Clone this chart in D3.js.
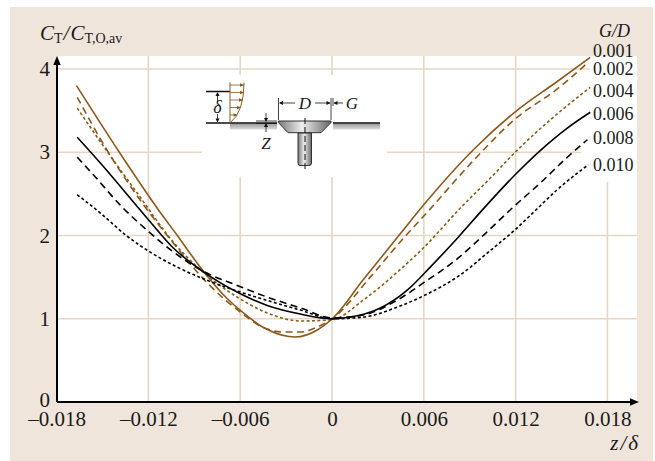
<!DOCTYPE html>
<html lang="en">

<head>
  <meta charset="UTF-8" />
  <title>Heat transfer coefficient vs z/delta</title>
  <script src="https://d3js.org/d3.v7.min.js"></script>
  <style>
    html,
    body {
      margin: 0;
      padding: 0;
      background-color: #fff;
    }

    svg {
      display: block;
      font-family: "Liberation Serif", serif;
      fill: #1a1a1a;
    }

    .grid line {
      stroke: #e7d6c3;
      stroke-width: 1.6px;
    }

    .curve {
      fill: none;
      stroke-width: 1.6px;
    }
  </style>
</head>

<body>
  <svg id="chart" width="655" height="461"></svg>

  <script>
    // values, z in z/delta units
    const xTicks = [-0.018, -0.012, -0.006, 0, 0.006, 0.012, 0.018];
    const xTickLabels = ["–0.018", "–0.012", "–0.006", "0", "0.006", "0.012", "0.018"];
    const yTicks = [0, 1, 2, 3, 4];

    const seriesNames = ["0.001", "0.002", "0.004", "0.006", "0.008", "0.010"];

    const z001 = [-0.0167, -0.0139, -0.01135, -0.01011, -0.00861, -0.00684, -0.00599, -0.00423, -0.0024, -0.00096, 0.00002, 0.00205, 0.00446, 0.00623, 0.00924, 0.01204, 0.01472, 0.01688];
    const c001 = [3.80, 3.00, 2.31, 2.00, 1.62, 1.24, 1.10, 0.87, 0.78, 0.865, 1.0, 1.47, 2.02, 2.42, 3.03, 3.495, 3.85, 4.14];

    const z002 = [-0.01665, -0.01462, -0.0122, -0.01077, -0.00815, -0.006, -0.00469, -0.00318, -0.00207, -0.00096, 0.00002, 0.0025, 0.00459, 0.00623, 0.00924, 0.01204, 0.01472, 0.01675];
    const c002 = [3.66, 3.00, 2.34, 2.00, 1.43, 1.08, 0.913, 0.84, 0.84, 0.90, 1.0, 1.50, 1.95, 2.28, 2.90, 3.41, 3.76, 4.08];

    const z004 = [-0.01665, -0.01462, -0.01273, -0.01037, -0.0088, -0.00619, -0.00423, -0.00207, 0.00002, 0.00205, 0.00427, 0.00597, 0.00839, 0.01035, 0.01197, 0.01446, 0.01688];
    const c004 = [3.53, 2.99, 2.51, 1.92, 1.62, 1.26, 1.07, 0.973, 0.99, 1.225, 1.56, 1.85, 2.33, 2.69, 3.0, 3.42, 3.78];

    const z006 = [-0.01665, -0.01514, -0.012, -0.01037, -0.00861, -0.00599, -0.00423, -0.00207, 0.00002, 0.00119, 0.00316, 0.00492, 0.00642, 0.00825, 0.00989, 0.01197, 0.01361, 0.01538, 0.01688];
    const c006 = [3.18, 2.87, 2.19, 1.85, 1.59, 1.30, 1.16, 1.057, 1.0, 1.02, 1.13, 1.345, 1.62, 1.98, 2.32, 2.73, 3.02, 3.29, 3.48];

    const z008 = [-0.01665, -0.0156, -0.01371, -0.01207, -0.01057, -0.00841, -0.00619, -0.00423, -0.00207, 0.00002, 0.00205, 0.00427, 0.00597, 0.00825, 0.01, 0.01178, 0.01361, 0.01538, 0.01669];
    const c008 = [2.94, 2.73, 2.34, 2.06, 1.83, 1.57, 1.40, 1.26, 1.13, 1.01, 1.045, 1.225, 1.43, 1.73, 2.02, 2.33, 2.63, 2.94, 3.15];

    const z010 = [-0.01665, -0.01514, -0.01338, -0.01188, -0.01011, -0.00841, -0.00599, -0.00423, -0.00207, 0.00002, 0.00205, 0.00427, 0.00609, 0.00825, 0.01035, 0.01197, 0.01329, 0.01472, 0.01675];
    const c010 = [2.49, 2.27, 1.99, 1.80, 1.62, 1.48, 1.32, 1.22, 1.105, 1.0, 1.02, 1.14, 1.285, 1.51, 1.82, 2.07, 2.30, 2.55, 2.85];

    const zValues = [z001, z002, z004, z006, z008, z010];
    const cValues = [c001, c002, c004, c006, c008, c010];

    const brown = "#8a5a1c";
    const beige = "#efe5da";
    const seriesColors = [brown, brown, brown, "#000", "#000", "#000"];
    const seriesDashes = [null, "7,4.5", "3,2.4", null, "7,4.5", "3,2.4"];
    const labelBaselines = [57, 75, 97, 120, 144, 171];

    const svg = d3.select("#chart");

    const xScale = d3.scaleLinear().domain([-0.018, 0.018]).range([56.6, 607.4]);
    const yScale = d3.scaleLinear().domain([0, 4]).range([402, 69]);

    // panel
    svg.append("rect").attr("x", 10).attr("y", 7).attr("width", 643).attr("height", 454).attr("fill", beige);
    svg.append("rect").attr("x", 57).attr("y", 56).attr("width", 580).attr("height", 346).attr("fill", "#fff");

    // grid, some lines stop short of the labels
    const grid = svg.append("g").attr("class", "grid");
    grid.selectAll("line.v")
      .data(xTicks.slice(1))
      .join("line")
      .attr("class", "v")
      .attr("x1", d => xScale(d))
      .attr("x2", d => xScale(d))
      .attr("y1", d => d === 0.018 ? 182 : 56)
      .attr("y2", yScale(0));

    const gridEnds = { 1: 637, 2: 637, 3: 581, 4: 590 };
    grid.selectAll("line.h")
      .data(yTicks.slice(1))
      .join("line")
      .attr("class", "h")
      .attr("x1", 57)
      .attr("x2", d => gridEnds[d])
      .attr("y1", d => yScale(d))
      .attr("y2", d => yScale(d));

    // white patch behind the sketch
    svg.append("rect").attr("x", 202).attr("y", 75).attr("width", 185).attr("height", 102).attr("fill", "#fff");

    // curves
    const line = d3.line()
      .x(d => xScale(d[0]))
      .y(d => yScale(d[1]))
      .curve(d3.curveMonotoneX);

    svg.append("g")
      .selectAll("path")
      .data(seriesNames)
      .join("path")
      .attr("class", "curve")
      .attr("d", (d, i) => line(d3.zip(zValues[i], cValues[i])))
      .attr("stroke", (d, i) => seriesColors[i])
      .attr("stroke-dasharray", (d, i) => seriesDashes[i]);

    // axes
    const bottomAxis = d3.axisBottom(xScale)
      .tickValues(xTicks)
      .tickSize(0)
      .tickPadding(9)
      .tickFormat((d, i) => xTickLabels[i]);
    const xAxis = svg.append("g").attr("transform", `translate(0,${yScale(0)})`).call(bottomAxis);
    xAxis.select(".domain").remove();
    xAxis.selectAll("text").attr("font-size", 21).attr("font-family", "Liberation Serif").attr("fill", "#1a1a1a");

    const leftAxis = d3.axisLeft(yScale).tickValues(yTicks).tickFormat(d3.format("d")).tickSize(0).tickPadding(7);
    const yAxis = svg.append("g").attr("transform", "translate(57,0)").call(leftAxis);
    yAxis.select(".domain").remove();
    yAxis.selectAll("text").attr("font-size", 21).attr("font-family", "Liberation Serif").attr("fill", "#1a1a1a");
    yAxis.selectAll("text").filter(d => d === 0).attr("dy", "0.2em");

    svg.append("line").attr("x1", 57).attr("x2", 633).attr("y1", 402).attr("y2", 402).attr("stroke", "#000").attr("stroke-width", 2);
    svg.append("line").attr("x1", 57).attr("x2", 57).attr("y1", 402).attr("y2", 62).attr("stroke", "#000").attr("stroke-width", 2);
    svg.append("path").attr("d", "M639,402 L630,398.3 L630,405.7 Z").attr("fill", "#000");
    svg.append("path").attr("d", "M57,56 L53.3,65 L60.7,65 Z").attr("fill", "#000");

    // axis titles
    const yTitle = svg.append("text").attr("x", 40).attr("y", 40).attr("font-size", 21);
    yTitle.append("tspan").attr("font-style", "italic").text("C");
    yTitle.append("tspan").attr("font-size", 14).attr("dy", 3).text("T");
    yTitle.append("tspan").attr("font-style", "italic").attr("dy", -3).attr("dx", 1).text("/");
    yTitle.append("tspan").attr("font-style", "italic").attr("dx", 1).text("C");
    yTitle.append("tspan").attr("font-size", 14).attr("dy", 3).text("T,O,av");

    const xTitle = svg.append("text").attr("x", 638).attr("y", 450).attr("text-anchor", "end").attr("font-size", 21).attr("font-style", "italic");
    xTitle.append("tspan").text("z");
    xTitle.append("tspan").attr("dx", 2).text("/");
    xTitle.append("tspan").attr("dx", 2).text("δ");

    // curve labels
    svg.append("text").attr("x", 599).attr("y", 37).attr("font-size", 18).attr("font-style", "italic").text("G/D");
    svg.append("g")
      .selectAll("text")
      .data(seriesNames)
      .join("text")
      .attr("x", 593)
      .attr("y", (d, i) => labelBaselines[i])
      .attr("font-size", 18)
      .text(d => d);

    // sketch of the gap and the plug
    const defs = svg.append("defs");
    const metal = defs.append("linearGradient").attr("id", "metal");
    metal.append("stop").attr("offset", "0%").attr("stop-color", "#777");
    metal.append("stop").attr("offset", "45%").attr("stop-color", "#eee");
    metal.append("stop").attr("offset", "100%").attr("stop-color", "#666");
    const wall = defs.append("linearGradient").attr("id", "wall").attr("x2", 0).attr("y2", 1);
    wall.append("stop").attr("offset", "0%").attr("stop-color", "#999");
    wall.append("stop").attr("offset", "100%").attr("stop-color", "#ddd");

    const sketch = svg.append("g").attr("stroke", "#111").attr("stroke-width", 1).attr("fill", "none");
    sketch.append("rect").attr("x", 230).attr("y", 123.5).attr("width", 47).attr("height", 6).attr("fill", "url(#wall)").attr("stroke", "none");
    sketch.append("rect").attr("x", 333).attr("y", 123.5).attr("width", 47).attr("height", 6).attr("fill", "url(#wall)").attr("stroke", "none");
    sketch.append("path").attr("d", "M206,123 H277 M333,123 H380 M206,91.5 H230").attr("stroke-width", 1.3);
    sketch.append("path").attr("d", "M278.3,121 H331 V122.5 L321,132.7 H288 L278.3,122.5 Z").attr("fill", "url(#metal)").attr("stroke", "#333");
    sketch.append("path").attr("d", "M298,133 H311.5 V163 Q311.5,165.5 309,165.5 H300 Q298,165.5 298,163 Z").attr("fill", "url(#metal)").attr("stroke", "#333");
    sketch.append("path").attr("d", "M305,118 V172").attr("stroke-dasharray", "6,3");
    sketch.append("path").attr("d", "M278.5,98 V120 M331,98 V120 M333,98 V106 M256,121 H277 M256,123.5 H277 M266,113 V121 M266,132 V124 M217.5,93 V102 M217.5,114 V122")
      .attr("stroke-width", 0.8);
    sketch.append("path").attr("d", "M280,103 H295 M315,103 H330 M334,103 H343").attr("stroke-width", 0.8);
    // arrow heads of the dimensions
    sketch.append("path")
      .attr("d", "M279,103 l4,-2 v4 Z M330.5,103 l-4,-2 v4 Z M333.5,103 l4,-2 v4 Z M217.5,92 l-2,4 h4 Z M217.5,122.5 l-2,-4 h4 Z M266,122 l-2,-4 h4 Z M266,123 l-2,4 h4 Z")
      .attr("fill", "#111").attr("stroke", "none");

    // boundary layer profile
    const profile = svg.append("g").attr("stroke", brown).attr("stroke-width", 1).attr("fill", "none");
    profile.append("path").attr("d", "M230,82.5 V123 Q244,112 244,82.5");
    profile.append("path").attr("d", "M230,85 H243.5 M230,92.5 H243.5 M230,100 H242.5 M230,107.5 H241 M230,115 H237").attr("stroke-width", 0.8);
    profile.append("path")
      .attr("d", "M244,85 l-4,-1.8 v3.6 Z M244,92.5 l-4,-1.8 v3.6 Z M243,100 l-4,-1.8 v3.6 Z M241,107.5 l-4,-1.8 v3.6 Z M237.5,115 l-4,-1.8 v3.6 Z")
      .attr("fill", brown).attr("stroke", "none");

    const sketchLabels = svg.append("g").attr("font-size", 17).attr("font-style", "italic").attr("text-anchor", "middle");
    sketchLabels.append("text").attr("x", 217.5).attr("y", 113).attr("font-size", 18).text("δ");
    sketchLabels.append("text").attr("x", 266).attr("y", 149).text("Z");
    sketchLabels.append("text").attr("x", 305).attr("y", 108.5).text("D");
    sketchLabels.append("text").attr("x", 352).attr("y", 108.5).text("G");
  </script>
</body>

</html>
